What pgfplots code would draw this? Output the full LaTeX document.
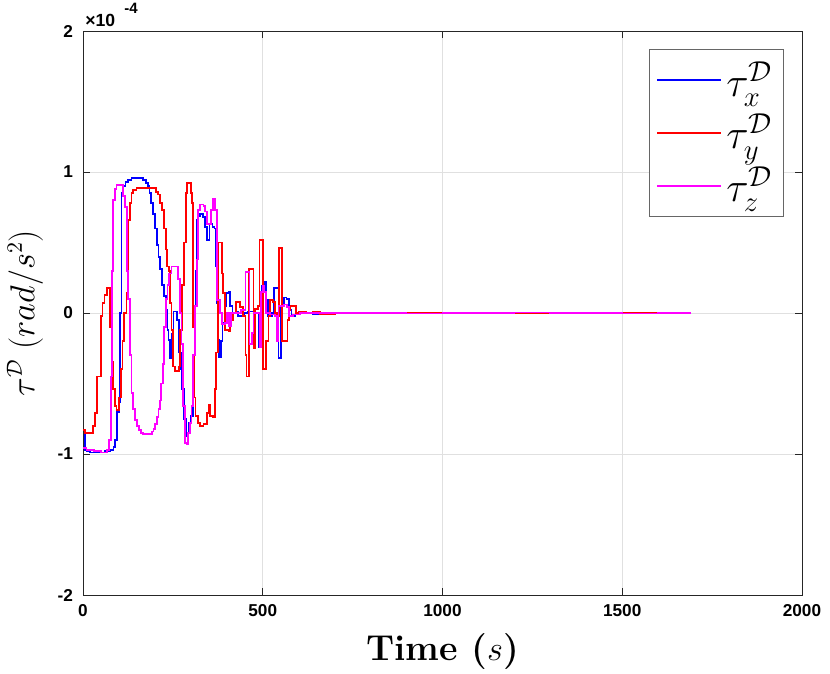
\documentclass[border=0pt]{standalone}
\usepackage{fontspec}
\usepackage{pgfplots}
\pgfplotsset{compat=1.18}
\newfontfamily\tickfont{Liberation Sans}
\definecolor{axgray}{gray}{0.15}
\definecolor{gridgray}{gray}{0.88}
\definecolor{cx}{RGB}{0,0,255}
\definecolor{cy}{RGB}{255,0,0}
\definecolor{cz}{RGB}{255,0,255}

% torque components, in units of 1e-4 rad/s^2
\pgfplotstableread{
t v
0 -0.83
5 -0.97
10 -0.98
20 -0.99
40 -0.99
60 -0.98
75 -0.97
85 -0.95
90 -0.90
95 -0.70
100 -0.63
104 0.00
107 0.85
112 0.90
118 0.93
125 0.945
135 0.955
160 0.955
168 0.945
175 0.92
180 0.90
185 0.85
190 0.78
195 0.70
200 0.60
205 0.48
210 0.40
215 0.31
220 0.20
225 0.12
230 0.02
235 -0.12
238 -0.19
242 -0.32
248 -0.15
252 0.01
258 0.01
262 -0.05
266 -0.28
272 -0.40
276 -0.54
282 -0.75
286 -0.87
290 -0.85
295 -0.78
300 -0.73
305 -0.54
310 -0.20
313 0.30
316 0.66
320 0.69
326 0.70
334 0.68
340 0.61
345 0.52
352 0.63
360 0.61
366 0.60
370 0.33
372 0.07
376 -0.19
379 -0.31
384 -0.20
388 -0.07
394 0.05
398 0.14
405 0.15
410 0.05
416 0.00
425 0.01
432 -0.02
440 -0.02
448 0.00
460 0.01
480 0.00
490 -0.24
497 0.19
504 0.22
509 0.09
515 -0.02
525 0.00
532 0.18
540 0.18
544 -0.32
550 0.05
558 0.11
566 0.10
572 0.02
580 -0.02
590 -0.01
600 0.01
615 0.00
640 -0.005
700 0.00
800 0.003
900 -0.002
1000 0.002
1100 -0.003
1200 0.002
1300 -0.002
1400 0.003
1500 -0.002
1600 0.002
1690 0.00
}\dataX

\pgfplotstableread{
t v
0 -0.83
5 -0.85
28 -0.80
33 -0.71
38 -0.45
45 -0.45
49 -0.02
54 0.07
60 0.13
66 0.18
73 0.18
76 -0.10
79 -0.35
84 -0.54
88 -0.66
93 -0.69
100 -0.60
105 -0.40
110 -0.20
115 0.00
121 0.14
126 0.66
131 0.78
135 0.85
140 0.87
149 0.885
195 0.885
203 0.86
209 0.84
214 0.78
219 0.73
225 0.60
230 0.45
234 0.33
240 0.30
243 0.07
246 -0.12
251 -0.38
256 -0.41
262 -0.41
266 -0.38
270 -0.12
275 0.20
280 0.50
286 0.85
290 0.92
296 0.92
300 0.85
303 0.78
307 -0.10
310 -0.60
313 -0.73
321 -0.78
325 -0.80
335 -0.79
344 -0.71
349 -0.65
353 -0.73
362 -0.74
367 -0.54
371 -0.28
376 0.50
386 0.28
390 0.14
395 -0.12
405 -0.13
410 -0.05
418 0.00
426 0.08
432 0.08
437 0.04
445 -0.02
452 -0.30
455 -0.45
461 0.31
469 0.31
474 -0.25
478 0.03
486 0.05
491 0.52
497 0.52
500 -0.40
507 -0.40
510 -0.20
516 -0.02
520 0.09
528 0.08
534 0.00
540 -0.02
545 0.46
551 0.46
554 -0.20
566 -0.20
569 -0.05
573 0.02
577 0.05
588 0.05
592 0.00
600 0.01
620 0.00
640 0.005
660 -0.005
700 0.00
800 -0.002
900 0.003
1000 -0.002
1100 0.002
1200 -0.003
1300 0.002
1400 -0.002
1500 0.003
1600 -0.002
1690 0.00
}\dataY

\pgfplotstableread{
t v
0 -0.96
10 -0.97
30 -0.98
50 -0.99
66 -0.97
73 -0.90
77 -0.45
80 0.30
84 0.80
89 0.88
93 0.91
107 0.91
112 0.83
117 0.75
122 0.30
126 0.10
130 -0.30
135 -0.57
140 -0.68
145 -0.76
150 -0.80
155 -0.83
162 -0.85
168 -0.86
185 -0.86
191 -0.84
196 -0.82
200 -0.79
205 -0.74
210 -0.68
214 -0.62
218 -0.50
222 -0.36
226 -0.10
230 0.10
235 0.20
240 0.28
246 0.33
260 0.33
265 0.24
270 0.00
274 -0.22
279 -0.66
284 -0.92
290 -0.93
293 -0.85
297 -0.78
302 -0.66
307 -0.30
312 0.05
316 0.38
321 0.73
325 0.77
335 0.76
340 0.72
345 0.63
352 0.63
357 0.73
361 0.81
367 0.73
372 0.09
380 0.00
386 -0.08
395 -0.07
400 0.00
407 -0.09
412 0.00
420 0.00
440 0.02
452 0.29
460 0.29
463 -0.22
469 -0.14
474 0.00
488 0.00
492 -0.24
495 0.15
500 0.19
505 0.15
510 0.00
520 -0.01
535 -0.02
539 -0.20
544 0.05
560 0.06
568 0.04
572 -0.02
585 -0.01
603 0.00
700 0.00
800 0.002
900 -0.003
1000 0.002
1100 -0.002
1200 0.003
1300 -0.002
1400 0.002
1500 -0.003
1600 0.002
1690 0.00
}\dataZ

\begin{document}
\begin{tikzpicture}
\begin{axis}[
  scale only axis,
  width=359.5pt, height=282pt,
  xmin=0, xmax=2000, ymin=-2, ymax=2,
  xtick={0,500,1000,1500,2000},
  xticklabels={0,500,1000,1500,2000},
  ytick={-2,-1,0,1,2},
  yticklabels={-2,-1,0,1,2},
  scaled ticks=false,
  tick align=inside,
  major tick length=3.5pt,
  tick style={axgray, line width=0.4pt},
  axis line style={axgray, line width=0.4pt},
  ticklabel style={font=\tickfont\bfseries\fontsize{8.6}{10}\selectfont},
  xticklabel style={yshift=-1pt},
  yticklabel style={xshift=-1.5pt},
  grid=major,
  major grid style={gridgray, line width=0.4pt},
  xlabel={\textbf{Time (}$s$\textbf{)}},
  xlabel style={font=\fontsize{18}{21}\selectfont, yshift=-2pt},
  ylabel={$\tau^{\mathcal{D}}\ (rad/s^2)$},
  ylabel style={font=\fontsize{16}{19}\selectfont, yshift=0.5pt},
  legend cell align=left,
  legend style={at={(1,1)}, anchor=north east, xshift=-9pt, yshift=-9pt,
    draw=gray!80!black, line width=0.4pt, fill=white,
    font=\fontsize{20}{24}\selectfont, row sep=3.5pt,
    inner xsep=3.5pt, inner ysep=4pt},
  legend image code/.code={\draw[#1] (0pt,0pt) -- (32pt,0pt);},
  every axis plot/.append style={line width=0.9pt, const plot},
]
\addplot[draw=cx] table[x=t, y=v] {\dataX};
\addlegendentry{$\tau_x^{\mathcal{D}}$}
\addplot[draw=cy] table[x=t, y=v] {\dataY};
\addlegendentry{$\tau_y^{\mathcal{D}}$}
\addplot[draw=cz] table[x=t, y=v] {\dataZ};
\addlegendentry{$\tau_z^{\mathcal{D}}$}
\end{axis}
\node[anchor=base west, inner sep=0pt, font=\tickfont\bfseries\fontsize{8.8}{10}\selectfont]
  at (current axis.north west) [xshift=1pt, yshift=2.5pt] {×10\hspace{4.5pt}\raisebox{6.5pt}{\fontsize{7.5}{8}\selectfont -4}};
\pgfresetboundingbox
\path (current axis.south west) ++(-41.5pt,-39.5pt) coordinate (bbA);
\path (current axis.north east) ++(14pt,15.5pt) coordinate (bbB);
\useasboundingbox (bbA) rectangle (bbB);
\end{tikzpicture}
\end{document}
